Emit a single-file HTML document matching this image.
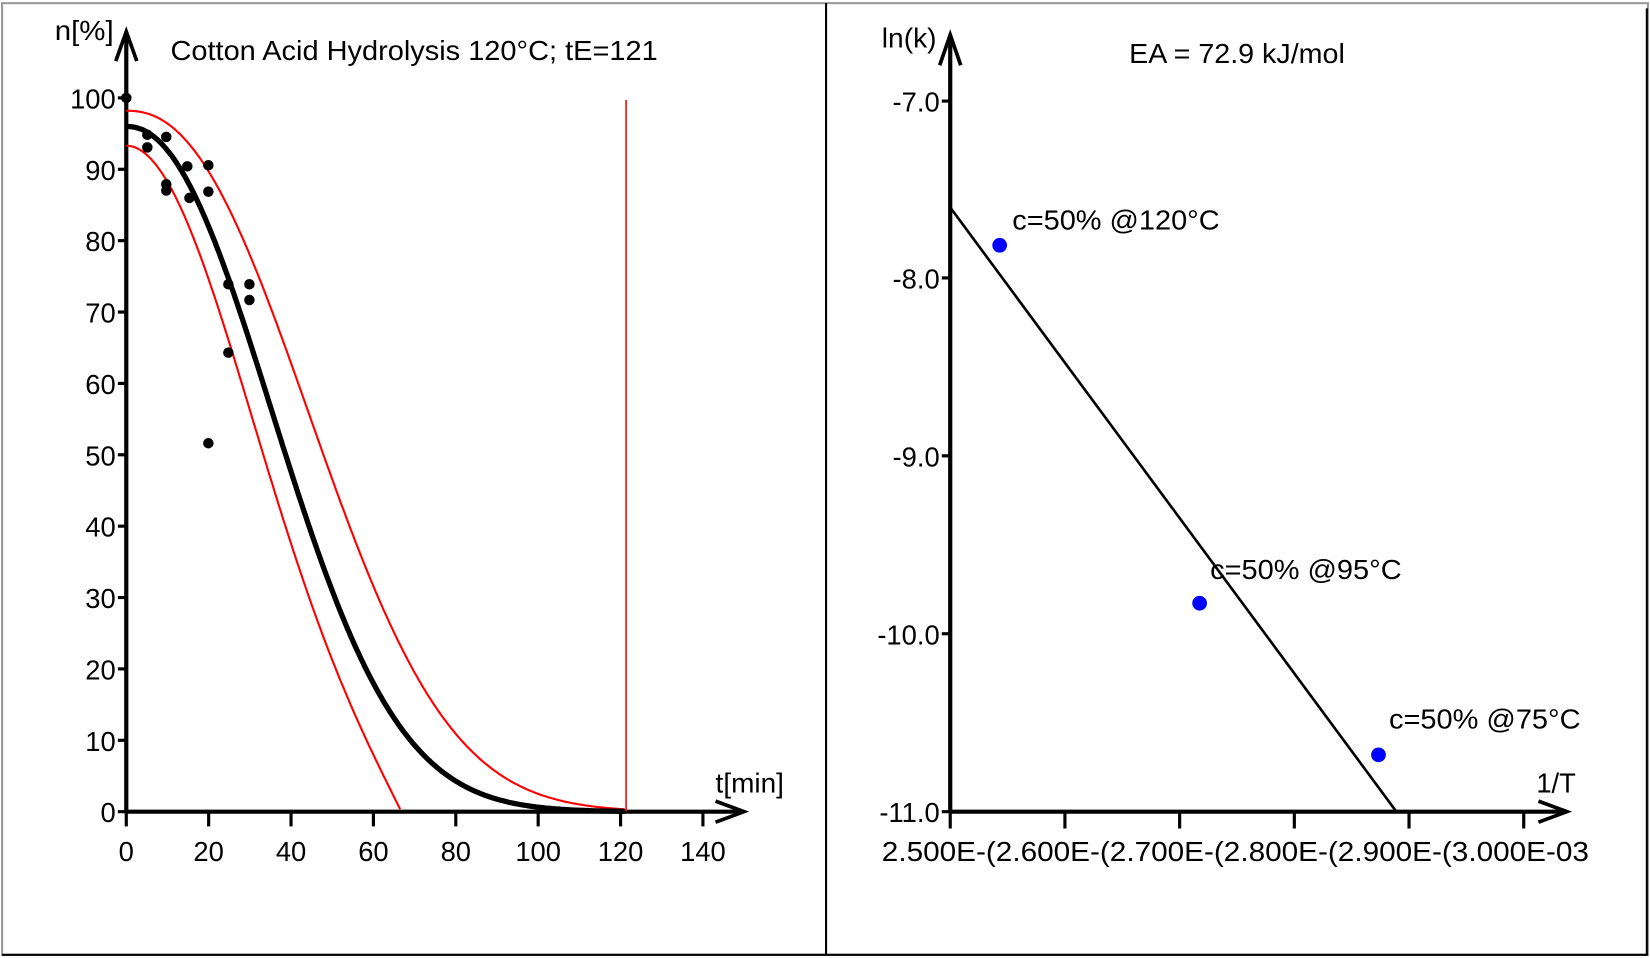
<!DOCTYPE html>
<html><head><meta charset="utf-8"><style>
html,body{margin:0;padding:0;background:#fff;width:1650px;height:958px;overflow:hidden}
svg{display:block}
text{font-family:"Liberation Sans",Arial,sans-serif;fill:#000}
</style></head><body>
<svg id="s" width="1650" height="958" viewBox="0 0 1568 910" preserveAspectRatio="none" xmlns="http://www.w3.org/2000/svg">
<rect x="2" y="3" width="1564" height="904" fill="none" stroke="#999" stroke-width="2"/>
<line x1="785" y1="3" x2="785" y2="907" stroke="#000" stroke-width="2"/>
<line x1="2" y1="907" x2="1566" y2="907" stroke="#000" stroke-width="2"/>
<line x1="1565" y1="8" x2="1565" y2="907" stroke="#000" stroke-width="2"/>
<g id="left" font-size="26"></g>
<g id="right" font-size="26"></g>
</svg>
<script>
const NS="http://www.w3.org/2000/svg";
function el(p,t,a,txt){const e=document.createElementNS(NS,t);for(const k in a)e.setAttribute(k,a[k]);if(txt!==undefined)e.textContent=txt;p.appendChild(e);return e;}
const L=document.getElementById('left'),R=document.getElementById('right');
// LEFT
const X=t=>120+t*(548/140), Y=v=>771-v*6.78;
el(L,'line',{x1:120,y1:771,x2:120,y2:35,stroke:'#000','stroke-width':4});
el(L,'path',{d:'M110,58 L120,30 L130,58',fill:'none',stroke:'#000','stroke-width':3.5});
el(L,'line',{x1:120,y1:771,x2:703,y2:771,stroke:'#000','stroke-width':4});
el(L,'path',{d:'M680,761 L707,771 L680,781',fill:'none',stroke:'#000','stroke-width':3.5});
for(let v=0;v<=100;v+=10){el(L,'line',{x1:112,y1:Y(v),x2:120,y2:Y(v),stroke:'#000','stroke-width':3});
el(L,'text',{x:110,y:Y(v)+10,'text-anchor':'end'},String(v));}
for(let t=0;t<=140;t+=20){el(L,'line',{x1:X(t),y1:771,x2:X(t),y2:785,stroke:'#000','stroke-width':3});
el(L,'text',{x:X(t),y:818,'text-anchor':'middle'},String(t));}
el(L,'text',{x:52,y:38,textLength:56,lengthAdjust:'spacingAndGlyphs'},'n[%]');
el(L,'text',{x:680,y:753,textLength:65,lengthAdjust:'spacingAndGlyphs'},'t[min]');
el(L,'text',{x:162,y:57,textLength:463,lengthAdjust:'spacingAndGlyphs'},'Cotton Acid Hydrolysis 120°C; tE=121');
function curve(f,tmax,stroke,w){let d='';for(let t=0;t<=tmax+0.01;t+=0.5){let v=Math.max(0,f(t));d+=(t?'L':'M')+X(t).toFixed(1)+','+Y(v).toFixed(1);}
return el(L,'path',{d:d,fill:'none',stroke:stroke,'stroke-width':w});}
curve(t=>93.3*Math.exp(-Math.pow(t/42.3,2))-7.7*Math.pow(t/66.8,5),66.8,'#f00',2);
curve(t=>98.2*Math.exp(-Math.pow(t/56.8,2.3)),121.3,'#f00',2);
curve(t=>96*Math.exp(-Math.pow(t/47.2,2.15)),121.3,'#000',5);
el(L,'line',{x1:595,y1:95,x2:595,y2:771,stroke:'#f00','stroke-width':1.5});
[[120,93],[140,128],[140,140],[158,130],[158,175],[158,181],[178,158],[180,188],[198,157],[198,182],[217,270],[217,335],[198,421],[237,270],[237,285]].forEach(p=>el(L,'circle',{cx:p[0],cy:p[1],r:5,fill:'#000'}));
// RIGHT
const ys={'-7.0':96,'-8.0':264,'-9.0':433,'-10.0':602,'-11.0':771};
el(R,'line',{x1:903,y1:771,x2:903,y2:36,stroke:'#000','stroke-width':4});
el(R,'path',{d:'M893,62 L903,33 L913,62',fill:'none',stroke:'#000','stroke-width':3.5});
el(R,'line',{x1:903,y1:771,x2:1486,y2:771,stroke:'#000','stroke-width':4});
el(R,'path',{d:'M1462,761 L1489,771 L1462,781',fill:'none',stroke:'#000','stroke-width':3.5});
for(const k in ys){el(R,'line',{x1:895,y1:ys[k],x2:903,y2:ys[k],stroke:'#000','stroke-width':3});el(R,'text',{x:893,y:ys[k]+10,'text-anchor':'end'},k);}
for(let i=0;i<6;i++){const x=903+i*109;el(R,'line',{x1:x,y1:771,x2:x,y2:787,stroke:'#000','stroke-width':3});}
el(R,'text',{x:838,y:818,textLength:672,lengthAdjust:'spacingAndGlyphs'},'2.500E-(2.600E-(2.700E-(2.800E-(2.900E-(3.000E-03');
el(R,'text',{x:838,y:45,textLength:52,lengthAdjust:'spacingAndGlyphs'},'ln(k)');
el(R,'text',{x:1460,y:753},'1/T');
el(R,'text',{x:1073,y:60,textLength:205,lengthAdjust:'spacingAndGlyphs'},'EA = 72.9 kJ/mol');
el(R,'line',{x1:903,y1:197,x2:1327,y2:771,stroke:'#000','stroke-width':2.5});
[[950,233],[1140,573],[1310,717]].forEach(p=>el(R,'circle',{cx:p[0],cy:p[1],r:7,fill:'#00f'}));
el(R,'text',{x:962,y:218,textLength:197,lengthAdjust:'spacingAndGlyphs'},'c=50% @120°C');
el(R,'text',{x:1150,y:550,textLength:182,lengthAdjust:'spacingAndGlyphs'},'c=50% @95°C');
el(R,'text',{x:1320,y:692,textLength:182,lengthAdjust:'spacingAndGlyphs'},'c=50% @75°C');
</script>
</body></html>
